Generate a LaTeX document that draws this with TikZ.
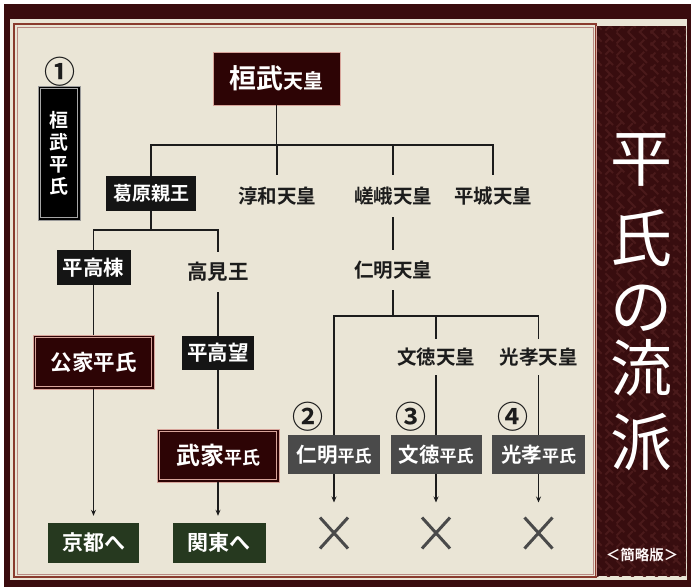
\documentclass[tikz,border=0pt]{standalone}
\usepackage{fontspec}
\newfontfamily\jp{Noto Sans CJK JP}[BoldFont={Noto Sans CJK JP Bold}]
\usetikzlibrary{arrows.meta,shapes.misc}
\definecolor{cream}{HTML}{EAE5D6}
\definecolor{outerdark}{HTML}{3A0C0E}
\definecolor{banner}{HTML}{380D0F}
\definecolor{bannerln}{HTML}{4A1A1B}
\definecolor{framec}{HTML}{8A3B2E}
\definecolor{maroon}{HTML}{2D0405}
\definecolor{pinkln}{HTML}{D7A49A}
\definecolor{boxblack}{HTML}{151515}
\definecolor{boxgray}{HTML}{4A4A4A}
\definecolor{boxgreen}{HTML}{26391F}
\definecolor{ink}{HTML}{1C1C1C}
\definecolor{xgray}{HTML}{4A4A4A}
\newcommand\fsz[1]{\fontsize{#1}{#1}\selectfont}
\tikzset{
  tree/.style={draw=ink, line width=1.3pt},
  arr/.style={draw=ink, line width=1.1pt, -{Stealth[length=6pt,width=5pt]}},
  lbl/.style={inner sep=0pt, text=ink, font=\jp\bfseries\fsz{19.5}},
  boxbase/.style={inner sep=0pt, text=white, font=\jp\bfseries\fsz{20}},
  blackbox/.style={boxbase, fill=boxblack},
  graybox/.style={boxbase, fill=boxgray},
  greenbox/.style={boxbase, fill=boxgreen},
  maroonbox/.style={boxbase, fill=maroon, draw=pinkln, line width=0.8pt},
  circnum/.style={inner sep=0pt, text=ink, font=\jp\bfseries\fsz{31}},
  crossmark/.style={cross out, draw=xgray, line width=3pt, minimum width=25pt, minimum height=28pt, inner sep=0pt},
  insetln/.style={draw=pinkln, line width=0.7pt}
}
\begin{document}
\begin{tikzpicture}[x=1pt,y=-1pt]
\useasboundingbox (0,0) rectangle (691,587);
% page and frame
\fill[white] (0,0) rectangle (691,587);
\fill[outerdark] (4,4) rectangle (691,587);
\fill[cream] (10,19) rectangle (687,580);
% banner
\fill[banner] (596,26) rectangle (686,576);
\begin{scope}
  \clip (596,26) rectangle (686,576);
  \foreach \k in {-120,-108,...,600}
    \draw[bannerln, line width=2pt, dash pattern=on 11pt off 5pt] (560,\k) -- (720,\k+160);
  \foreach \k in {-120,-108,...,600}
    \draw[bannerln, line width=2pt, dash pattern=on 7pt off 9pt] (560,\k+160) -- (720,\k);
\end{scope}
\draw[framec, line width=1.2pt] (14,24) rectangle (596,577);
\draw[framec!60, line width=0.6pt] (17,27) rectangle (593,574);
\draw[pinkln, line width=0.8pt] (596,26) -- (596,576);
% title
\foreach \ch/\yy in {平/160,氏/238,の/308,流/368,派/442}
  \node[inner sep=0pt, text=white, font=\jp\fsz{62}] (t\yy) at (641,\yy) {\ch};
\node[inner sep=0pt, text=white!90!pink, font=\jp\bfseries\fsz{14.5}] (ryaku) at (642,555) {＜簡略版＞};
% left column
\node[circnum] (n1) at (60,72) {①};
\node[blackbox, fill=black, draw=gray!80, line width=0.9pt, minimum width=42pt, minimum height=134pt,
      align=center, font=\jp\bfseries\fontsize{19}{22}\selectfont] (kheishi) at (59,153) {桓\\武\\平\\氏};
\draw[gray!70, line width=0.6pt] ([shift={(3,3)}]kheishi.north west) rectangle ([shift={(-3,-3)}]kheishi.south east);
% top
\node[maroonbox, minimum width=127pt, minimum height=53pt] (kanmu) at (276.5,78.5)
  {{\fsz{27}桓武}{\fsz{20}天皇}};
\node[blackbox, minimum width=90pt, minimum height=35pt, font=\jp\bfseries\fsz{19}] (kuzu) at (151,193.5) {葛原親王};
\node[lbl, minimum height=42pt] (junna) at (277,196) {淳和天皇};
\node[lbl, minimum height=42pt] (saga) at (393,196) {嵯峨天皇};
\node[lbl, minimum height=42pt] (heizei) at (493,196) {平城天皇};
\coordinate (j1) at (276.5,145);
\draw[tree] (kanmu.south) -- (j1);
\draw[tree] (kuzu.north) -- (kuzu.north |- j1) -- (heizei.north |- j1) -- (heizei.north);
\draw[tree] (junna.north) -- (junna.north |- j1);
\draw[tree] (saga.north) -- (saga.north |- j1);
% kuzuhara branch
\node[blackbox, minimum width=74pt, minimum height=35pt, font=\jp\bfseries\fsz{20.5}] (htm) at (93.5,267.5) {平高棟};
\node[lbl, minimum height=40pt, font=\jp\bfseries\fsz{20.5}] (takami) at (218,272) {高見王};
\coordinate (j2) at (151,230);
\draw[tree] (kuzu.south) -- (j2);
\draw[tree] (htm.north) -- (htm.north |- j2) -- (takami.north |- j2) -- (takami.north);
\node[maroonbox, minimum width=121pt, minimum height=54pt, font=\jp\bfseries\fsz{21.5}] (kuge) at (93.5,362) {公家平氏};
\draw[insetln] ([shift={(3,3)}]kuge.north west) rectangle ([shift={(-3,-3)}]kuge.south east);
\node[blackbox, minimum width=72pt, minimum height=34pt, font=\jp\bfseries\fsz{20.5}] (htmo) at (218,353) {平高望};
\node[maroonbox, minimum width=122pt, minimum height=53pt] (buke) at (218,455.5) {{\fsz{24}武家}{\fsz{18}平氏}};
\draw[insetln] ([shift={(3,3)}]buke.north west) rectangle ([shift={(-3,-3)}]buke.south east);
\draw[tree] (htm.south) -- (kuge.north);
\draw[tree] (takami.south) -- (htmo.north);
\draw[tree] (htmo.south) -- (buke.north);
\node[greenbox, minimum width=91pt, minimum height=40pt, font=\jp\bfseries\fsz{21}] (kyoto) at (93.5,543) {京都へ};
\node[greenbox, minimum width=93pt, minimum height=40pt, font=\jp\bfseries\fsz{21}] (kanto) at (219,543) {関東へ};
\draw[arr, shorten >=7pt] (kuge.south) -- (kyoto.north);
\draw[arr, shorten >=7pt] (buke.south) -- (buke.south |- kanto.north);
% saga branch
\node[lbl, minimum height=40pt] (ninmyo) at (393,270) {仁明天皇};
\draw[tree] (saga.south) -- (ninmyo.north);
\coordinate (j3) at (393,316);
\draw[tree] (ninmyo.south) -- (j3);
\node[lbl, minimum height=36pt] (montoku) at (436,357) {文徳天皇};
\node[lbl, minimum height=36pt] (koko) at (538.5,357) {光孝天皇};
\node[graybox, minimum width=92pt, minimum height=39pt] (b2) at (334,454.5) {{\fsz{20.5}仁明}{\fsz{17}平氏}};
\node[graybox, minimum width=91pt, minimum height=39pt] (b3) at (436,454.5) {{\fsz{20.5}文徳}{\fsz{17}平氏}};
\node[graybox, minimum width=93pt, minimum height=39pt] (b4) at (538.5,454.5) {{\fsz{20.5}光孝}{\fsz{17}平氏}};
\draw[tree] (b2.north) -- (b2.north |- j3) -- (koko.north |- j3) -- (koko.north);
\draw[tree] (montoku.north) -- (montoku.north |- j3);
\draw[tree] (montoku.south) -- (b3.north);
\draw[tree] (koko.south) -- (b4.north);
\node[circnum] (n2) at (308,417) {②};
\node[circnum] (n3) at (411,417) {③};
\node[circnum] (n4) at (513,417) {④};
\node[crossmark] (x2) at (334,533) {};
\node[crossmark] (x3) at (436,533) {};
\node[crossmark] (x4) at (538.5,533) {};
\draw[arr, shorten >=15pt] (b2.south) -- (x2.north);
\draw[arr, shorten >=15pt] (b3.south) -- (x3.north);
\draw[arr, shorten >=15pt] (b4.south) -- (x4.north);
\end{tikzpicture}
\end{document}
